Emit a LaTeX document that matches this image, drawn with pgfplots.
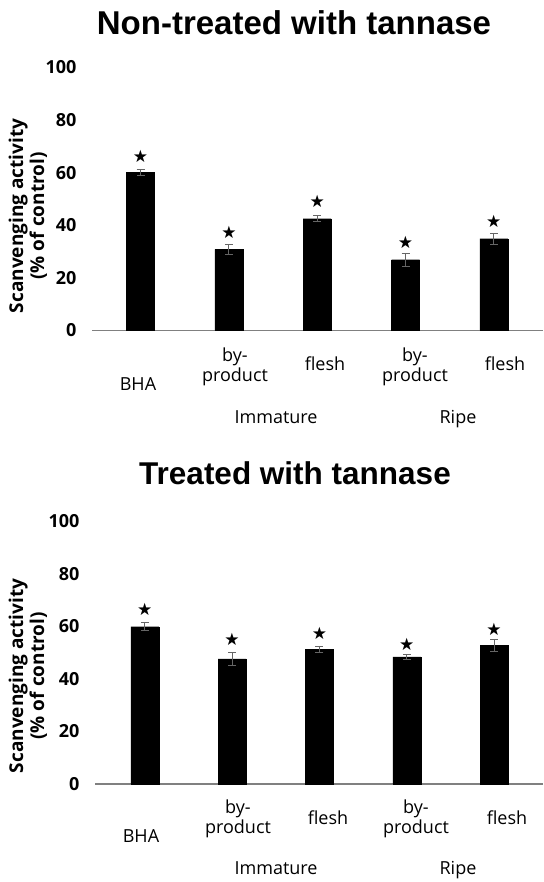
\documentclass[border=0pt]{standalone}
\usepackage{pgfplots}
\pgfplotsset{compat=1.18}
\usepackage{fontspec}
\setmainfont{Open Sans}
\newfontfamily\titlefont{Liberation Sans}
\newfontfamily\dejavu{DejaVu Sans}
\definecolor{axgray}{RGB}{128,128,128}
\pgfplotsset{mybar/.style={
  scale only axis, height=263pt, ymin=0, ymax=100, ytick={0,20,40,60,80,100},
  axis x line*=bottom, axis y line*=left, y axis line style={draw=none},
  x axis line style={draw=axgray, line width=1.5pt},
  xtick=\empty, major tick length=0pt,
  /pgf/number format/assume math mode=true,
  yticklabel style={font=\fontsize{18}{18}\selectfont\bfseries, xshift=-12pt},
  clip=false,
},
barstyle/.style={ybar, bar width=28pt, fill=black, draw=black,
  error bars/.cd, y dir=both, y explicit,
  error bar style={draw=black!60, line width=0.8pt},
  error mark options={rotate=90, mark size=4pt, draw=black!60, line width=0.8pt}},
starstyle/.style={only marks, mark=text, text mark as node=true,
  text mark={\dejavu\fontsize{17}{17}\selectfont ★}}
}
\begin{document}
\begin{tikzpicture}
\path[use as bounding box] (0,0) rectangle (543pt,882pt);
% ---------- top chart ----------
\begin{axis}[mybar, width=451pt, xmin=-0.55, xmax=4.557, at={(92pt,551.5pt)}, anchor=south west]
\addplot[barstyle] coordinates {(0,60.0) +- (0,1.2) (1,30.8) +- (0,2.0) (2,42.5) +- (0,1.2) (3,26.9) +- (0,2.5) (4,34.9) +- (0,2.0)};
\addplot[starstyle] coordinates {(0,66.3) (1,37.4) (2,49.2) (3,33.6) (4,41.6)};
\end{axis}
% ---------- bottom chart ----------
\begin{axis}[mybar, width=448pt, xmin=-0.57, xmax=4.56, at={(95pt,98pt)}, anchor=south west]
\addplot[barstyle] coordinates {(0,59.8) +- (0,1.5) (1,47.6) +- (0,2.5) (2,51.2) +- (0,1.0) (3,48.3) +- (0,0.8) (4,52.6) +- (0,2.3)};
\addplot[starstyle] coordinates {(0,66.2) (1,54.8) (2,57.3) (3,53.2) (4,58.8)};
\end{axis}
% titles
\node[anchor=base, font=\titlefont\bfseries\fontsize{33}{33}\selectfont] at (294pt,847pt) {Non-treated with tannase};
\node[anchor=base, font=\titlefont\bfseries\fontsize{31.5}{31.5}\selectfont] at (295pt,397pt) {Treated with tannase};
% y labels
\node[rotate=90, align=center, font=\bfseries\fontsize{19}{21}\selectfont] at (28pt,666pt) {Scanvenging activity\\(\% of control)};
\node[rotate=90, align=center, font=\bfseries\fontsize{19}{21}\selectfont] at (28pt,206pt) {Scanvenging activity\\(\% of control)};
% category labels
\begin{scope}[every node/.style={anchor=base, font=\fontsize{18}{18}\selectfont, inner sep=0pt}]
\node at (138pt,491pt) {BHA};
\node at (235pt,520pt) {by-};
\node at (235pt,500pt) {product};
\node at (325pt,511pt) {flesh};
\node at (415pt,520pt) {by-};
\node at (415pt,500pt) {product};
\node at (505pt,511pt) {flesh};
\node at (276pt,458pt) {Immature};
\node at (458pt,458pt) {Ripe};
\node at (141pt,39pt) {BHA};
\node at (238pt,68pt) {by-};
\node at (238pt,48pt) {product};
\node at (328pt,57pt) {flesh};
\node at (416pt,68pt) {by-};
\node at (416pt,48pt) {product};
\node at (507pt,57pt) {flesh};
\node at (276pt,7pt) {Immature};
\node at (458pt,7pt) {Ripe};
\end{scope}
\end{tikzpicture}
\end{document}
